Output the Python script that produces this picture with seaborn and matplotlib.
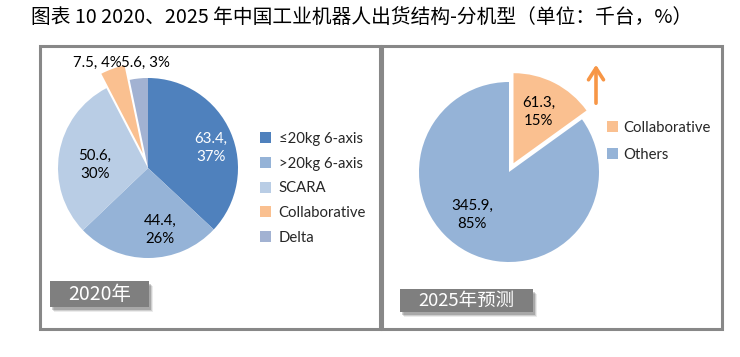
import numpy as np
import matplotlib
matplotlib.use("Agg")
import matplotlib.pyplot as plt
from matplotlib.patches import Rectangle, Patch
import seaborn as sns

# ---------------- data ----------------
cats_2020 = ['≤20kg 6-axis', '>20kg 6-axis', 'SCARA', 'Collaborative', 'Delta']
vals_2020 = [63.4, 44.4, 50.6, 7.5, 5.6]
cats_2025 = ['Collaborative', 'Others']
vals_2025 = [61.3, 345.9]
title_text = '图表 10 2020、2025 年中国工业机器人出货结构-分机型（单位：千台，%）'
panel_titles = ['2020年', '2025年预测']

# ---------------- style ----------------
sns.set_theme(style="white")
plt.rcParams['font.family'] = ['Lato', 'DejaVu Sans', 'Noto Sans CJK SC']
cjk = ['Noto Sans CJK SC', 'DejaVu Sans']

colors_2020 = ['#4F81BD', '#95B3D7', '#B9CDE5', '#FAC090', '#A2B2D2']
colors_2025 = ['#FAC090', '#95B3D7']
txtcol_2020 = ['white', 'black', 'black', 'black', 'black']
txtcol_2025 = ['black', 'black']
explode_2020 = [0, 0, 0, 0.17, 0]     # fraction of radius
explode_2025 = [0.11, 0]
# label positions (in pie-radius units, relative to pie centre)
lblpos_2020 = [(0.70, 0.22), (0.13, -0.69), (-0.59, 0.03), (-0.56, 1.17), (-0.03, 1.17)]
lblpos_2025 = [(0.33, 0.67), (-0.41, -0.48)]

W, H = 740, 357
fig = plt.figure(figsize=(W / 100, H / 100), dpi=100)
ax = fig.add_axes([0, 0, 1, 1])

def Y(y):
    return H - y

# panel frames
for (x0, x1) in [(40, 380), (382, 722)]:
    ax.add_patch(Rectangle((x0, Y(328.5)), x1 - x0, 283, fill=False,
                           edgecolor='#888888', linewidth=2.2, zorder=1))

def fmt(v, total, two_lines):
    pct = f"{round(v / total * 100):d}%"
    return f"{v:g},\n{pct}" if two_lines else f"{v:g}, {pct}"

r = 90
# 2020 pie
c1 = (148, Y(168))
ax.pie(vals_2020, colors=colors_2020, startangle=90, counterclock=False,
       center=c1, radius=r, explode=[e * r for e in explode_2020], frame=True,
       wedgeprops=dict(linewidth=0))
tot = sum(vals_2020)
for v, (dx, dy), tc in zip(vals_2020, lblpos_2020, txtcol_2020):
    ax.text(c1[0] + dx * r, c1[1] + dy * r, fmt(v, tot, v / tot > 0.1),
            ha='center', va='center', fontsize=10.8, color=tc, linespacing=1.35, zorder=5)

# 2025 pie
c2 = (509, Y(172))
ax.pie(vals_2025, colors=colors_2025, startangle=90, counterclock=False,
       center=c2, radius=r, explode=[e * r for e in explode_2025], frame=True,
       wedgeprops=dict(linewidth=0))
tot2 = sum(vals_2025)
for v, (dx, dy), tc in zip(vals_2025, lblpos_2025, txtcol_2025):
    ax.text(c2[0] + dx * r, c2[1] + dy * r, fmt(v, tot2, True),
            ha='center', va='center', fontsize=10.8, color=tc, linespacing=1.35, zorder=5)

# legends
h1 = [Patch(facecolor=c, edgecolor='none') for c in colors_2020]
leg1 = ax.legend(h1, cats_2020, loc='upper left', bbox_to_anchor=(260, Y(132)),
                 bbox_transform=ax.transData, frameon=False, fontsize=10.7,
                 handlelength=0.75, handleheight=0.75, handletextpad=0.5,
                 labelspacing=0.72, borderpad=0, borderaxespad=0)
ax.add_artist(leg1)
h2 = [Patch(facecolor=c, edgecolor='none') for c in colors_2025]
ax.legend(h2, cats_2025, loc='upper left', bbox_to_anchor=(607, Y(121)),
          bbox_transform=ax.transData, frameon=False, fontsize=10.7,
          handlelength=0.75, handleheight=0.75, handletextpad=0.35,
          labelspacing=0.88, borderpad=0, borderaxespad=0)

# up arrow
ax.annotate('', xy=(596, Y(62)), xytext=(596, Y(106)),
            arrowprops=dict(arrowstyle='->,head_length=0.7,head_width=0.45',
                            color='#F79646', lw=2.6))

# panel title boxes with soft shadow
for (x0, y0, x1, y1), t, fs in zip([(50, 281, 149, 307), (400, 289, 533, 312)],
                                   panel_titles, [14, 13.3]):
    for k, a in zip([5, 4, 3], [0.08, 0.12, 0.18]):
        ax.add_patch(Rectangle((x0 + k - 1, Y(y1 + k)), x1 - x0, y1 - y0,
                               facecolor='black', alpha=a, edgecolor='none', zorder=3))
    ax.add_patch(Rectangle((x0, Y(y1)), x1 - x0, y1 - y0, facecolor='#7F7F7F',
                           edgecolor='none', zorder=4))
    ax.text((x0 + x1) / 2, Y((y0 + y1) / 2), t, ha='center', va='center',
            color='white', fontsize=fs, family=cjk, zorder=5)

# main title
ax.text(31, Y(18), title_text, ha='left', va='center', fontsize=14.2,
        family=cjk, color='black')

ax.set_xlim(0, W)
ax.set_ylim(0, H)
ax.set_aspect('equal')
ax.axis('off')

fig.savefig('out.png', dpi=100)
